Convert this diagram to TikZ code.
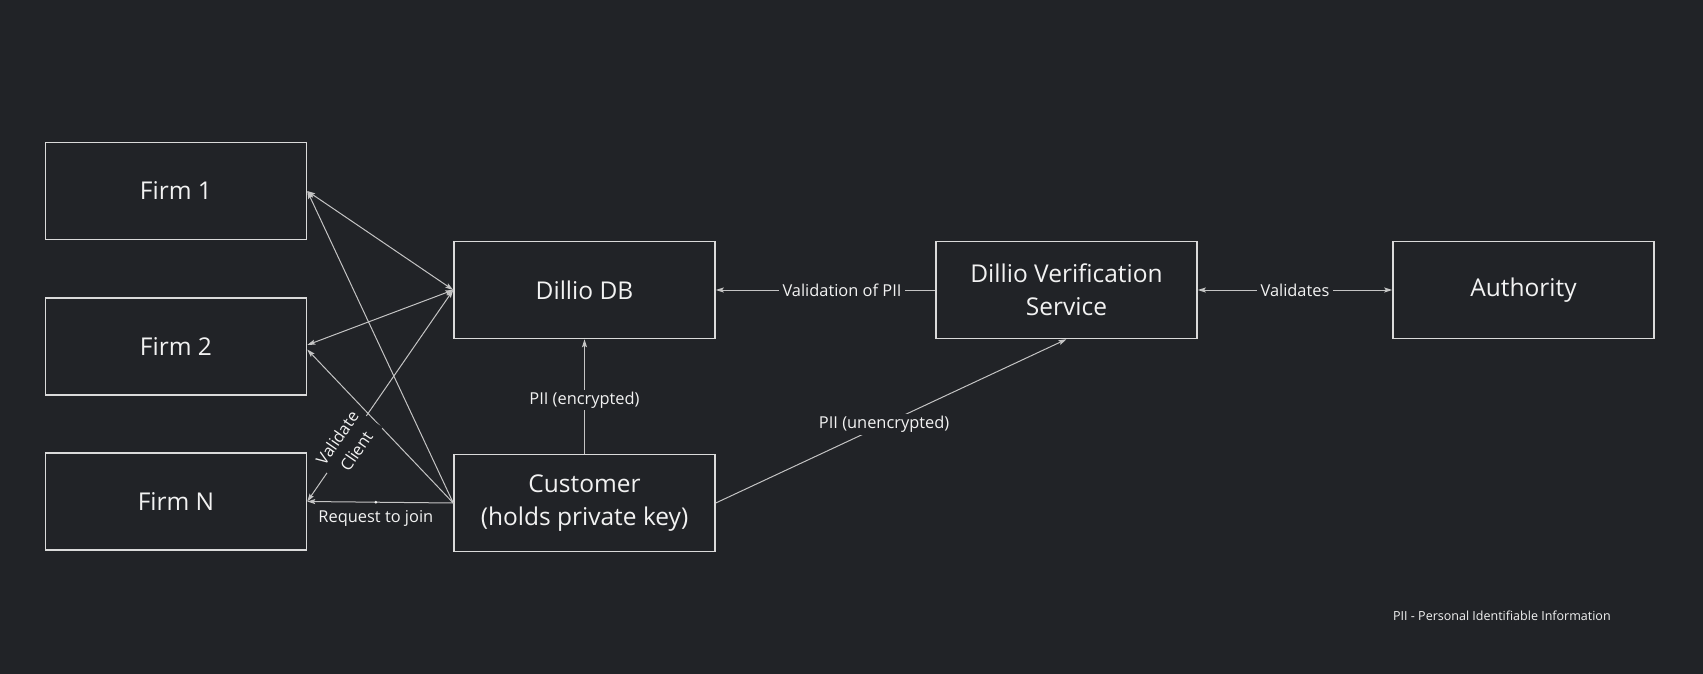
\documentclass[tikz,border=0pt]{standalone}
\usepackage{fontspec}
\setmainfont{Open Sans}
\usetikzlibrary{arrows.meta}
\definecolor{bg}{HTML}{212327}
\definecolor{boxc}{HTML}{DADADA}
\definecolor{linec}{HTML}{C4C4C4}
\definecolor{txt}{HTML}{F2F2F2}
\begin{document}
\begin{tikzpicture}[x=1pt,y=-1pt,
  box/.style={draw=boxc, line width=1.5pt, minimum width=261pt, minimum height=97pt,
    text=txt, font=\fontsize{24.5}{33}\selectfont, align=center, inner sep=0pt},
  conn/.style={draw=linec, line width=1pt},
  arr/.style={conn, -{Stealth[length=8pt,width=5pt,inset=1.5pt]}},
  dbl/.style={conn, {Stealth[length=8pt,width=5pt,inset=1.5pt]}-{Stealth[length=8pt,width=5pt,inset=1.5pt]}},
  lbl/.style={fill=bg, text=txt, font=\fontsize{16.4}{23}\selectfont, inner xsep=4pt, inner ysep=2pt, align=center},
  dotc/.style={circle, fill=txt, inner sep=0pt, minimum size=3pt}
]
\fill[bg] (0,0) rectangle (1703,674);
\useasboundingbox (0,0) rectangle (1703,674);

\node[box] (f1) at (176,191) {\raisebox{1.5pt}{Firm 1}};
\node[box] (f2) at (176,346.5) {Firm 2};
\node[box] (fN) at (176,501.5) {Firm N};
\node[box] (db) at (584.5,290) {Dillio DB};
\node[box] (vs) at (1066.5,290) {Dillio Verification\\Service};
\node[box] (auth) at (1523.5,290) {Authority};
\node[box] (cust) at (584.5,503) {Customer\\(holds private key)};

\draw[arr] (cust.west) -- (f1.east);
\draw[arr] (cust.west) -- ([yshift=-3pt]f2.east);
\draw[arr] (cust.west) -- node[pos=0.53, dotc] (jd) {} node[pos=0.53, below=6pt, lbl, fill=none] (jl) {Request to join} (fN.east);

\draw[dbl] (f1.east) -- (db.west);
\draw[dbl] ([yshift=1.5pt]f2.east) -- (db.west);
\draw[dbl] (fN.east) -- node[pos=0.27, sloped, lbl] (vc) {Validate\\Client} (db.west);

\draw[arr] (vs.west) -- node[pos=0.425, lbl] (vp) {Validation of PII} (db.east);
\draw[dbl] (vs.east) -- node[lbl] (va) {Validates} (auth.west);
\draw[arr] (cust.north) -- node[pos=0.47, lbl] (pe) {PII (encrypted)} (db.south);
\draw[arr] (cust.east) -- node[pos=0.48, lbl] (pu) {PII (unencrypted)} (vs.south);

\node[anchor=west, text=txt, font=\fontsize{12.5}{15}\selectfont, inner sep=0pt] (note) at (1393,616) {PII - Personal Identifiable Information};
\end{tikzpicture}
\end{document}
